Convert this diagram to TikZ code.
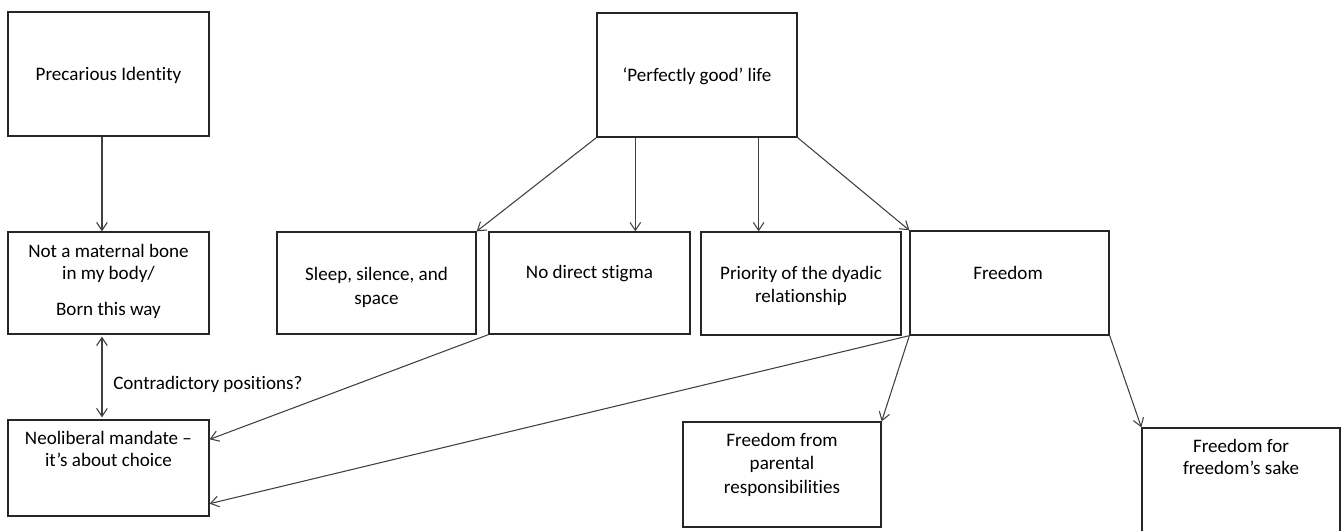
\documentclass[tikz,border=0pt]{standalone}
\usepackage{fontspec}
\setmainfont{Carlito}[Ligatures=NoCommon]
\usetikzlibrary{arrows.meta}
\begin{document}
\begin{tikzpicture}[x=0.75pt,y=-0.75pt,
  box/.style={draw=black!85, line width=1pt, rectangle, inner sep=0pt},
  txt/.style={inner sep=0pt, anchor=base, text=black, font=\fontsize{14.3}{17.25}\selectfont},
  arr/.style={draw=black!75, line width=0.8pt, -{Straight Barb[length=6pt,width=8pt]}},
  darr/.style={draw=black!75, line width=0.8pt, {Straight Barb[length=6pt,width=8pt]}-{Straight Barb[length=6pt,width=8pt]}}]
\useasboundingbox (0,0) rectangle (1341,531);
\clip (0,0) rectangle (1341,531);
% boxes
\node[box, minimum width=150.75pt, minimum height=93pt] (PI) at (108.5,74) {};
\node[box, minimum width=150.75pt, minimum height=76.5pt] (NM) at (108.5,283) {};
\node[box, minimum width=150.75pt, minimum height=72pt] (NL) at (108.5,468) {};
\node[box, minimum width=150pt, minimum height=93pt] (PG) at (697,75) {};
\node[box, minimum width=149.25pt, minimum height=76.5pt] (SL) at (376.5,283) {};
\node[box, minimum width=150.75pt, minimum height=76.5pt] (ND) at (589.5,283) {};
\node[box, minimum width=150pt, minimum height=77.25pt] (PR) at (801,283.5) {};
\node[box, minimum width=149.25pt, minimum height=78pt] (FR) at (1009.5,283) {};
\node[box, minimum width=148.5pt, minimum height=78.75pt] (FF) at (782,474.5) {};
\node[box, minimum width=148.5pt, minimum height=99pt] (FS) at (1241,494) {};
% texts
\node[txt] (tPI) at (108.5,81) {Precarious Identity};
\node[txt] (tNM1) at (108.5,257) {Not a maternal bone};
\node[txt] (tNM2) at (108.5,279) {in my body/};
\node[txt] (tNM3) at (108.5,315) {Born this way};
\node[txt] (tNL1) at (108.5,444) {Neoliberal mandate –};
\node[txt] (tNL2) at (108.5,466) {it’s about choice};
\node[txt, anchor=base west] (tCP) at (113,389) {Contradictory positions?};
\node[txt] (tPG) at (697,82) {‘Perfectly good’ life};
\node[txt] (tSL1) at (376.5,280) {Sleep, silence, and};
\node[txt] (tSL2) at (376.5,304) {space};
\node[txt] (tND) at (589.5,278) {No direct stigma};
\node[txt] (tPR1) at (801,279) {Priority of the dyadic};
\node[txt] (tPR2) at (801,302) {relationship};
\node[txt] (tFR) at (1008,279) {Freedom};
\node[txt] (tFF1) at (782,446) {Freedom from};
\node[txt] (tFF2) at (782,469) {parental};
\node[txt] (tFF3) at (782,493) {responsibilities};
\node[txt] (tFS1) at (1241,452) {Freedom for};
\node[txt] (tFS2) at (1241,474) {freedom’s sake};
% helper coordinates
\coordinate (a1) at ([xshift=-4.9pt]PI.south);
\coordinate (a2) at ([xshift=-4.9pt]NM.north);
\coordinate (a3) at ([xshift=-4.9pt]NM.south);
\coordinate (a4) at ([xshift=-4.9pt]NL.north);
\coordinate (p1) at ([xshift=29.25pt]PG.south west);
\coordinate (p2) at ([xshift=-29.25pt]PG.south east);
\coordinate (n1) at ([yshift=-15pt]NL.north east);
\coordinate (n2) at ([yshift=9.75pt]NL.south east);
% connectors
\draw[arr] (a1) -- (a2);
\draw[darr] ([yshift=-1.5pt]a3) -- ([yshift=1.5pt]a4);
\draw[arr] (PG.south west) -- (SL.north east);
\draw[arr] (p1) -- (p1 |- ND.north);
\draw[arr] (p2) -- (p2 |- PR.north);
\draw[arr] (PG.south east) -- (FR.north west);
\draw[arr] (ND.south west) -- (n1);
\draw[arr] (FR.south west) -- (n2);
\draw[arr] (FR.south west) -- (FF.north east);
\draw[arr] (FR.south east) -- (FS.north west);
\end{tikzpicture}
\end{document}
